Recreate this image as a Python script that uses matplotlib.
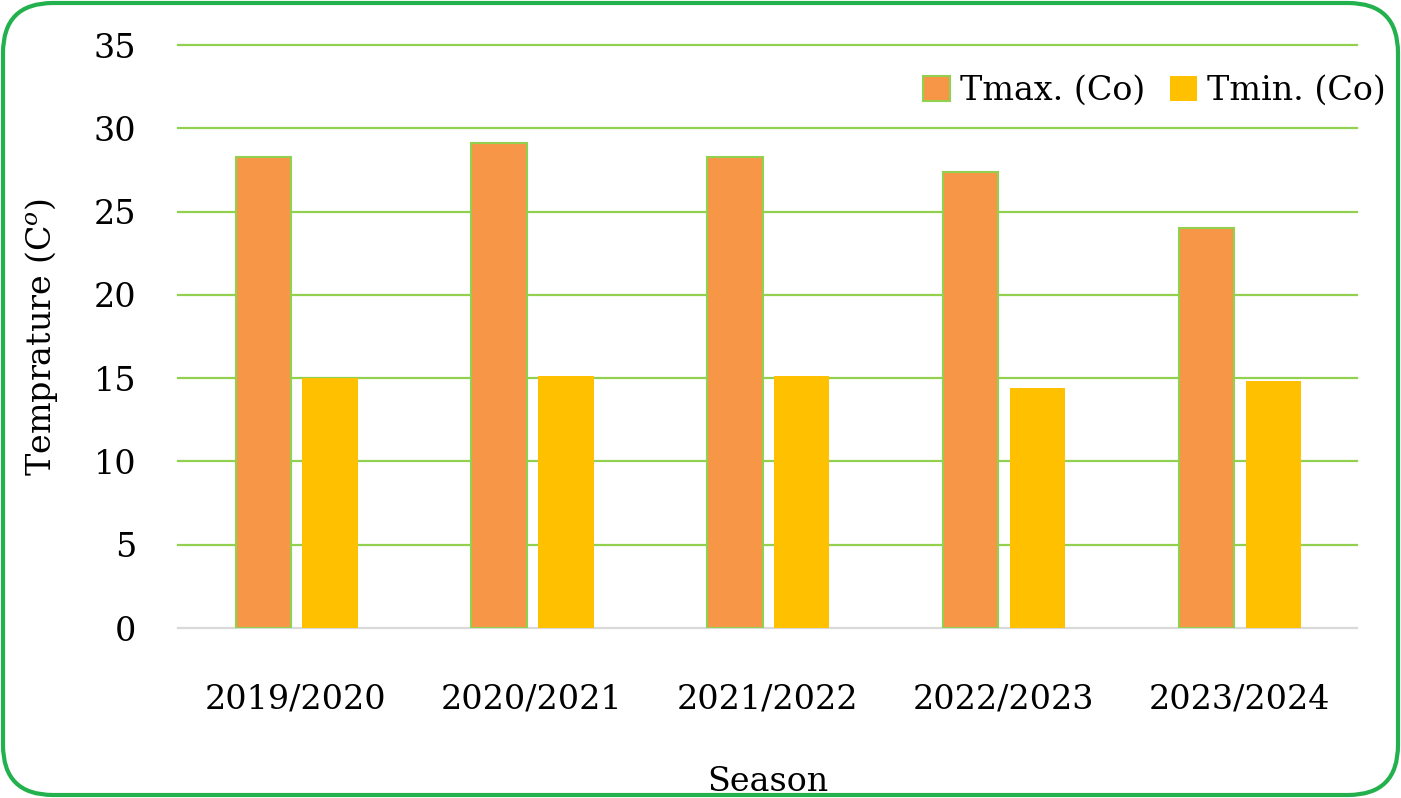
import numpy as np
import matplotlib
matplotlib.use("Agg")
import matplotlib.pyplot as plt
from matplotlib.patches import FancyBboxPatch

plt.rcParams['font.family'] = ['DejaVu Serif']
plt.rcParams['mathtext.fontset'] = 'dejavuserif'

seasons = ["2019/2020", "2020/2021", "2021/2022", "2022/2023", "2023/2024"]
tmax = [28.3, 29.1, 28.3, 27.4, 24.0]
tmin = [15.0, 15.1, 15.1, 14.4, 14.8]

fig = plt.figure(figsize=(14.01, 7.98), dpi=100)
ax = fig.add_axes([0.127, 0.213, 0.8416, 0.7306])

x = np.arange(len(seasons))
w = 0.235
ax.bar(x - 0.138, tmax, w, color='#F79646', edgecolor='#92D050', linewidth=1.5,
       label='Tmax. (Co)', zorder=3)
ax.bar(x + 0.145, tmin, w, color='#FFC000', label='Tmin. (Co)', zorder=3)

ax.set_xlim(-0.5, 4.5)
ax.set_ylim(0, 35)
ax.set_yticks(range(0, 36, 5))
ax.set_xticks(x)
ax.set_xticklabels(seasons)

# gridlines (green), baseline grey
for yv in ax.get_yticks()[1:]:
    ax.axhline(yv, color='#92D050', linewidth=1.6, zorder=0, clip_on=False)
ax.axhline(0, color='#D9D9D9', linewidth=1.6, zorder=2, clip_on=False)

for s in ax.spines.values():
    s.set_visible(False)
ax.tick_params(axis='both', length=0, labelsize=24)
ax.tick_params(axis='y', pad=30)
ax.tick_params(axis='x', pad=40)

ax.set_ylabel('Temprature (C$^{o}$)', fontsize=24, labelpad=24)
ax.set_xlabel('Season', fontsize=24, labelpad=36)

leg = ax.legend(loc='center right', bbox_to_anchor=(1.024, 0.921), ncol=2, frameon=False,
                fontsize=24, handlelength=0.8, handleheight=0.75, handletextpad=0.3,
                columnspacing=0.75, borderpad=0, borderaxespad=0)

frame = FancyBboxPatch((0.03, 0.03), 13.95, 7.92, boxstyle="round,pad=0,rounding_size=0.5",
                       transform=fig.dpi_scale_trans, facecolor='none', edgecolor='#22B14C',
                       linewidth=3)
fig.patches.append(frame)

fig.savefig('out.png', dpi=100)
